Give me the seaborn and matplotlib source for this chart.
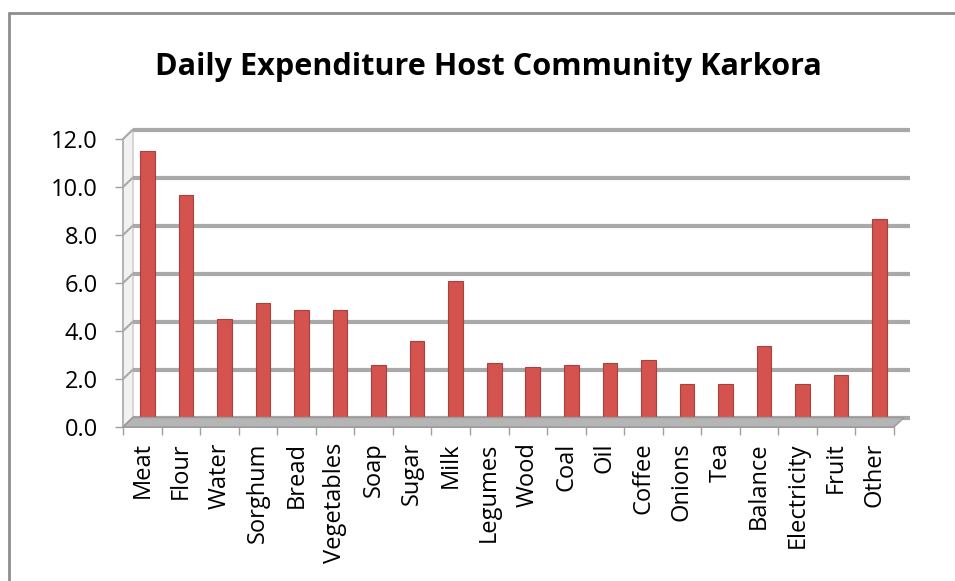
import numpy as np
import pandas as pd
import matplotlib
matplotlib.use("Agg")
import matplotlib.pyplot as plt
import matplotlib.transforms as mtransforms
from matplotlib.patches import Polygon
from matplotlib.lines import Line2D
import seaborn as sns

categories = ["Meat", "Flour", "Water", "Sorghum", "Bread", "Vegetables", "Soap",
              "Sugar", "Milk", "Legumes", "Wood", "Coal", "Oil", "Coffee",
              "Onions", "Tea", "Balance", "Electricity", "Fruit", "Other"]
expenditure = [11.3, 9.5, 4.3, 5.0, 4.7, 4.7, 2.4, 3.4, 5.9, 2.5,
               2.3, 2.4, 2.5, 2.6, 1.6, 1.6, 3.2, 1.6, 2.0, 8.5]
y_ticks = [0, 2, 4, 6, 8, 10, 12]
title = "Daily Expenditure Host Community Karkora"

sns.set_theme(style="white")
plt.rcParams["font.family"] = ["Open Sans", "DejaVu Sans"]

W, H = 955, 581
df = pd.DataFrame({"item": categories, "value": expenditure})

fig = plt.figure(figsize=(W / 100, H / 100), dpi=100)
fig.patch.set_facecolor("white")
ax = fig.add_axes([123 / W, 1 - 427 / H, (894 - 123) / W, (427 - 139) / H])
ax.set_facecolor("none")

sns.barplot(data=df, x="item", y="value", color="#d4534f", width=0.38,
            saturation=1, ax=ax, edgecolor="#a8403c", linewidth=0.8, zorder=4)

n = len(categories)
ax.set_xlim(-0.5, n - 0.5)
ax.set_ylim(0, 12)

# pseudo-3D depth: back wall sits up and to the right of the front axis
depth_back = mtransforms.offset_copy(ax.transData, x=10, y=9.5, units="dots")
depth_mid = mtransforms.offset_copy(ax.transData, x=5, y=4.5, units="dots")
for p in ax.patches:
    p.set_transform(depth_mid)
    p.set_clip_on(False)

grid_col = "#a9a9a9"
# back-wall gridlines
for v in y_ticks:
    ax.plot([-0.5, n - 0.35], [v, v], transform=depth_back, color=grid_col,
            lw=3, solid_capstyle="butt", clip_on=False, zorder=1)

fig.canvas.draw()
to_disp = ax.transData.transform
back_disp = depth_back.transform
ident = mtransforms.IdentityTransform()

# left wall
fl0, fl1 = to_disp((-0.5, 0)), to_disp((-0.5, 12))
bl0, bl1 = back_disp((-0.5, 0)), back_disp((-0.5, 12))
wall = Polygon([fl0, fl1, bl1, bl0], closed=True, transform=ident,
               facecolor="#f2f2f2", edgecolor="#c8c8c8", lw=1, zorder=0)
fig.add_artist(wall)
for v in y_ticks:
    a, b = to_disp((-0.5, v)), back_disp((-0.5, v))
    fig.add_artist(Line2D([a[0], b[0]], [a[1], b[1]], transform=ident,
                          color=grid_col, lw=1.5, zorder=1))

# floor
fr0, fr1 = to_disp((n - 0.5, 0)), back_disp((n - 0.5, 0))
floor = Polygon([fl0, fr0, fr1, bl0], closed=True, transform=ident,
                facecolor="#b5b5b5", edgecolor="#9a9a9a", lw=1, zorder=2)
fig.add_artist(floor)

# axes styling
for s in ["top", "right"]:
    ax.spines[s].set_visible(False)
ax.spines["left"].set_color("#b0b0b0")
ax.spines["bottom"].set_color("#9a9a9a")
ax.spines["left"].set_zorder(1)
ax.set_yticks(y_ticks)
ax.set_yticklabels([f"{v:.1f}" for v in y_ticks], fontsize=17, color="black")
ax.tick_params(axis="y", left=True, length=6, width=1, color="#a0a0a0", pad=12)
ax.set_xticks(range(n))
ax.set_xticklabels(categories, rotation=90, fontsize=17, color="black")
ax.tick_params(axis="x", which="major", bottom=False, length=0, pad=11)
ax.set_xticks(np.arange(-0.5, n, 1.0), minor=True)
ax.tick_params(axis="x", which="minor", bottom=True, length=6, width=1, color="#a0a0a0")
ax.set_xlabel("")
ax.set_ylabel("")

fig.text(488 / W, 1 - 75 / H, title, ha="center", va="baseline",
         fontsize=22.1, fontweight="bold", color="black")

# chart frame
fig.add_artist(Line2D([9 / W, 9 / W], [0, 1 - 13 / H], transform=fig.transFigure,
                      color="#8e8e8e", lw=2))
fig.add_artist(Line2D([9 / W, 1], [1 - 13 / H, 1 - 13 / H], transform=fig.transFigure,
                      color="#8e8e8e", lw=2))

fig.savefig("out.png", dpi=100, facecolor="white")
